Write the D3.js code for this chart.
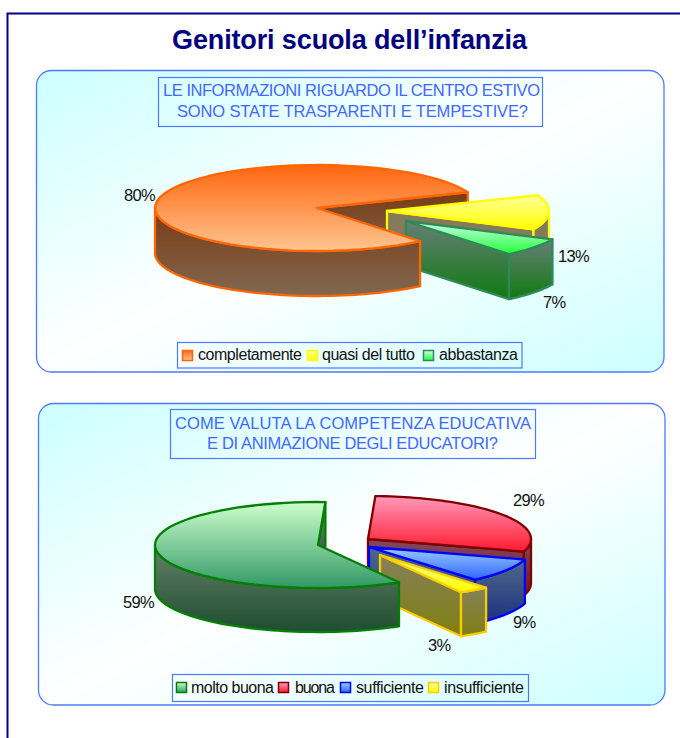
<!DOCTYPE html>
<html><head><meta charset="utf-8">
<script src="https://cdn.jsdelivr.net/npm/d3@7"></script>
<style>html,body{margin:0;padding:0;background:#fff}svg{display:block}text{font-family:"Liberation Sans",Arial,sans-serif}</style>
</head><body><div id="c"></div>
<script>
const pageTitle = "Genitori scuola dell\u2019infanzia";
const q1Lines = ["LE INFORMAZIONI RIGUARDO IL CENTRO ESTIVO", "SONO STATE TRASPARENTI E TEMPESTIVE?"];
const q1Categories = ["completamente", "quasi del tutto", "abbastanza"];
const q1Values = [80, 13, 7];
const q2Lines = ["COME VALUTA LA COMPETENZA EDUCATIVA", "E DI ANIMAZIONE DEGLI EDUCATORI?"];
const q2Categories = ["molto buona", "buona", "sufficiente", "insufficiente"];
const q2Values = [59, 29, 9, 3];

const W = 680, H = 738;
const svg = d3.select("#c").append("svg").attr("width", W).attr("height", H);
const defs = svg.append("defs");
let gid = 0;
function grad(c0, c1, diag) {
  const id = "g" + (gid++);
  const g = defs.append("linearGradient").attr("id", id)
    .attr("x1", 0).attr("y1", 0).attr("x2", diag ? 1 : 0).attr("y2", 1);
  g.append("stop").attr("offset", 0).attr("stop-color", c0);
  if (diag) g.append("stop").attr("offset", .5).attr("stop-color", "#fff");
  g.append("stop").attr("offset", 1).attr("stop-color", c1);
  return `url(#${id})`;
}
const BLUE = "#4d79ff", NAVY = "#000080";

// page frame
svg.append("path").attr("d", `M7.5 ${H}V13.5H${W}`).attr("fill", "none").attr("stroke", NAVY).attr("stroke-width", 2);
svg.append("text").attr("x", 172).attr("y", 49)
  .attr("font-size", 27).attr("font-weight", "bold").attr("fill", NAVY)
  .attr("textLength", 355).attr("lengthAdjust", "spacing").text(pageTitle);

const q1 = {
  panel: [36.5, 70.5, 627.5, 301.5],
  box: [158.5, 77.5, 384, 49],
  lines: q1Lines, lineY: [96, 117], lineX: [[163, 377], [177, 351]],
  values: q1Values, cats: q1Categories,
  start: 140.5, rx: 162, ry: 43, depth: 45,
  centers: [[317, 208], [387, 211], [406, 221]],
  labels: [[124, 201], [558, 262], [543, 308]],
  styles: [
    {top: ["#ff6610", "#ffc590"], wall: ["#7a3a14", "#806850"], stroke: "#ff6600"},
    {top: ["#ffff99", "#ffff00"], wall: ["#85795a", "#85805a"], stroke: "#ffff00"},
    {top: ["#ccffee", "#22ff33"], wall: ["#667f78", "#107a10"], stroke: "#2e8b57"}
  ],
  legend: [177.5, 342.5, 344.5, 25.5],
  legendY: 350, legendBase: 360,
  legendSw: [182, 307, 423], legendTx: [[198, 104], [322, 93], [439, 79]]
};
const q2 = {
  panel: [38.5, 403.5, 626.5, 301.5],
  box: [170.5, 409.5, 365, 49],
  lines: q2Lines, lineY: [429, 449], lineX: [[175, 356], [207, 291]],
  values: q2Values, cats: q2Categories,
  start: 150.2, rx: 163, ry: 43, depth: 44,
  centers: [[318, 545], [368, 539], [369, 547], [380, 555]],
  labels: [[123, 608], [513, 506], [513, 628], [428, 651]],
  styles: [
    {top: ["#ccffcc", "#339966"], wall: ["#66806a", "#1e4d30"], stroke: "#008000"},
    {top: ["#ff99bb", "#ff1a2e"], wall: ["#804a60", "#7a1020"], stroke: "#800000"},
    {top: ["#99ccff", "#3366ff"], wall: ["#4e6a88", "#1a3080"], stroke: "#0000ff"},
    {top: ["#ffff99", "#ffff00"], wall: ["#85805a", "#808010"], stroke: "#ffcc00"}
  ],
  legend: [172.5, 674.5, 356, 27],
  legendY: 682, legendBase: 693,
  legendSw: [176, 278, 340, 428], legendTx: [[191, 83], [295, 40], [356, 68], [444, 80]]
};

const line = d3.line();
const TAU = 2 * Math.PI;
function drawChart(c) {
  const g = svg.append("g");
  const [px, py, pw, ph] = c.panel;
  g.append("rect").attr("x", px).attr("y", py).attr("width", pw).attr("height", ph)
    .attr("rx", 15).attr("fill", grad("#ccffff", "#ccffff", true)).attr("stroke", BLUE).attr("stroke-width", 1.3);
  const [bx, by, bw, bh] = c.box;
  g.append("rect").attr("x", bx).attr("y", by).attr("width", bw).attr("height", bh)
    .attr("fill", "none").attr("stroke", BLUE).attr("stroke-width", 1.2);
  c.lines.forEach((t, i) => g.append("text").attr("x", c.lineX[i][0]).attr("y", c.lineY[i])
    .attr("font-size", 16.5).attr("fill", "#4068ff")
    .attr("textLength", c.lineX[i][1]).attr("lengthAdjust", "spacing").text(t));

  const s0 = c.start * Math.PI / 180;
  const arcs = d3.pie().sort(null).startAngle(s0).endAngle(s0 + TAU)(c.values);
  const proj = (i, a, dz = 0) => [c.centers[i][0] + c.rx * Math.sin(a), c.centers[i][1] - c.ry * Math.cos(a) + dz];
  const samples = (a0, a1) => d3.range(0, 61).map(k => a0 + (a1 - a0) * k / 60);
  const draw = (d, fill, stroke) => g.append("path").attr("d", d).attr("fill", fill)
    .attr("stroke", stroke).attr("stroke-width", 2.3).attr("stroke-linejoin", "round");

  const endCut = (a, i) => {
    const [cx, cy] = c.centers[i], st = c.styles[i];
    const p = proj(i, a.endAngle), q = proj(i, a.endAngle, c.depth);
    draw(line([[cx, cy], p, q, [cx, cy + c.depth]]) + "Z", grad(st.wall[0], st.wall[1]), st.stroke);
  };
  const wallTop = (a, i) => {
    const [cx, cy] = c.centers[i], st = c.styles[i];
    const off = a.startAngle >= TAU ? TAU : 0;
    const lo = Math.max(a.startAngle - off, Math.PI / 2), hi = Math.min(a.endAngle - off, 1.5 * Math.PI);
    if (hi > lo) {
      const ang = samples(lo, hi);
      const pts = ang.map(t => proj(i, t)).concat(ang.slice().reverse().map(t => proj(i, t, c.depth)));
      draw(line(pts) + "Z", grad(st.wall[0], st.wall[1]), st.stroke);
    }
    const top = [[cx, cy]].concat(samples(a.startAngle, a.endAngle).map(t => proj(i, t)));
    draw(line(top) + "Z", grad(st.top[0], st.top[1]), st.stroke);
  };
  // painter's order: the first big slice's inner face, then exploded slices, then the big slice
  endCut(arcs[0], 0);
  arcs.slice(1).forEach((a, k) => { endCut(a, k + 1); wallTop(a, k + 1); });
  wallTop(arcs[0], 0);

  c.values.forEach((v, i) => g.append("text").attr("x", c.labels[i][0]).attr("y", c.labels[i][1])
    .attr("font-size", 16.5).attr("fill", "#111").attr("letter-spacing", -0.7).text(v + "%"));

  const [lx, ly, lw, lh] = c.legend;
  g.append("rect").attr("x", lx).attr("y", ly).attr("width", lw).attr("height", lh)
    .attr("fill", "none").attr("stroke", BLUE).attr("stroke-width", 1.2);
  c.cats.forEach((t, i) => {
    const st = c.styles[i];
    g.append("rect").attr("x", c.legendSw[i] + .5).attr("y", c.legendY + .5).attr("width", 10).attr("height", 10)
      .attr("fill", grad(st.top[0], st.top[1])).attr("stroke", st.stroke).attr("stroke-width", 1.5);
    g.append("text").attr("x", c.legendTx[i][0]).attr("y", c.legendBase)
      .attr("font-size", 16).attr("fill", "#111")
      .attr("textLength", c.legendTx[i][1]).attr("lengthAdjust", "spacing").text(t);
  });
}
drawChart(q1);
drawChart(q2);
</script></body></html>
